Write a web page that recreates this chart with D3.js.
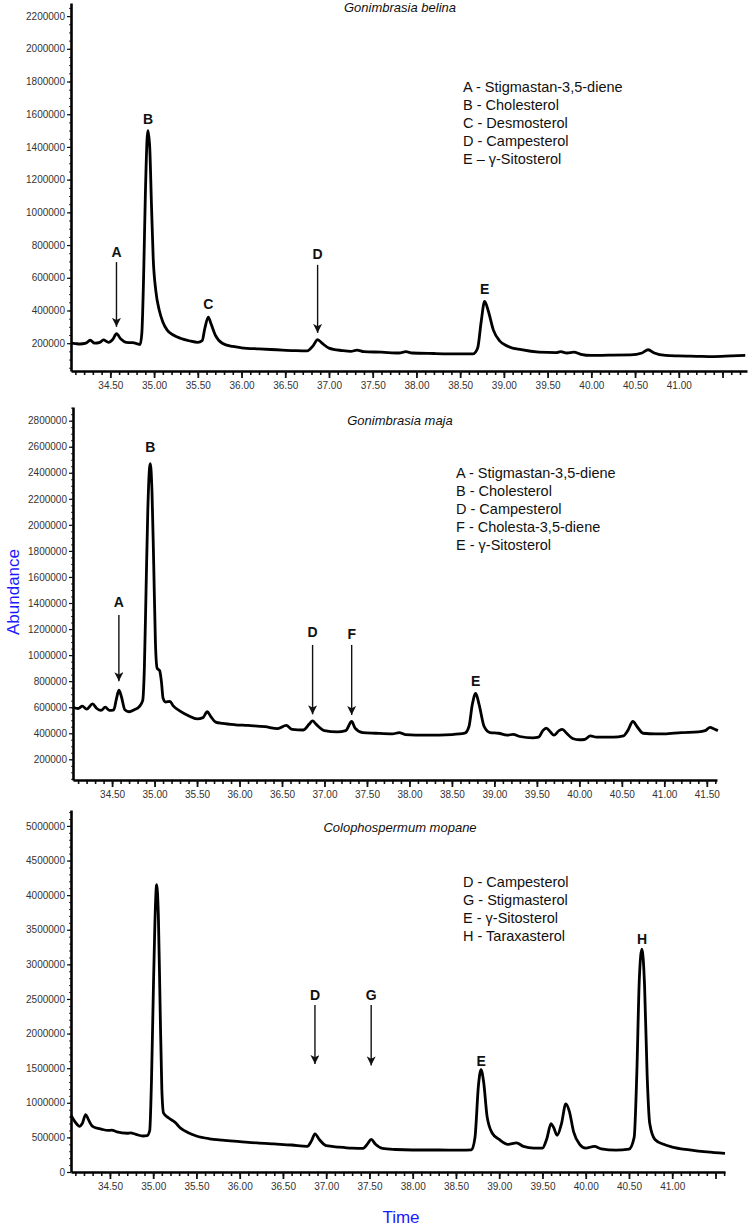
<!DOCTYPE html>
<html>
<head>
<meta charset="utf-8">
<script src="https://cdn.jsdelivr.net/npm/d3@7"></script>
<style>
body { margin: 0; background: #fff; }
svg text { font-family: "Liberation Sans", Arial, sans-serif; }
</style>
</head>
<body>
<div id="chart"></div>
<script>
// ---- Gonimbrasia belina ----
var belinaTime = [34.05, 34.10, 34.15, 34.22, 34.27, 34.32, 34.38, 34.42, 34.48, 34.53, 34.57, 34.62, 34.68, 34.75, 34.80, 34.84, 34.86, 34.88, 34.90, 34.92, 34.93, 34.95, 34.97, 34.99, 35.02, 35.06, 35.10, 35.15, 35.22, 35.30, 35.40, 35.50, 35.55, 35.58, 35.62, 35.65, 35.70, 35.78, 35.90, 36.00, 36.20, 36.40, 36.60, 36.75, 36.82, 36.87, 36.92, 37.00, 37.15, 37.25, 37.32, 37.40, 37.60, 37.80, 37.88, 37.95, 38.20, 38.50, 38.65, 38.70, 38.74, 38.78, 38.82, 38.88, 38.95, 39.05, 39.20, 39.40, 39.60, 39.65, 39.72, 39.80, 39.88, 40.00, 40.20, 40.45, 40.58, 40.65, 40.72, 40.85, 41.00, 41.20, 41.40, 41.60, 41.76];
var belinaAbund = [200000, 198000, 195000, 200000, 218000, 200000, 205000, 220000, 205000, 225000, 258000, 225000, 205000, 203000, 198000, 192000, 260000, 600000, 1100000, 1450000, 1500000, 1400000, 1050000, 720000, 520000, 400000, 330000, 280000, 250000, 230000, 215000, 205000, 215000, 290000, 360000, 320000, 250000, 200000, 180000, 172000, 165000, 160000, 155000, 153000, 185000, 222000, 200000, 170000, 155000, 150000, 158000, 148000, 145000, 140000, 148000, 140000, 137000, 135000, 135000, 170000, 330000, 455000, 400000, 280000, 215000, 180000, 160000, 145000, 142000, 148000, 140000, 145000, 132000, 125000, 127000, 128000, 140000, 160000, 140000, 125000, 122000, 120000, 118000, 122000, 125000];
var belinaYTicks = [200000, 400000, 600000, 800000, 1000000, 1200000, 1400000, 1600000, 1800000, 2000000, 2200000];
var belinaXTicks = ["34.50", "35.00", "35.50", "36.00", "36.50", "37.00", "37.50", "38.00", "38.50", "39.00", "39.50", "40.00", "40.50", "41.00", ""];
var belinaLegend = ["A - Stigmastan-3,5-diene", "B - Cholesterol", "C - Desmosterol", "D - Campesterol", "E \u2013 \u03b3-Sitosterol"];
var belinaPeakLetter = ["A", "B", "C", "D", "E"];
var belinaPeakTime = [34.57, 34.93, 35.62, 36.87, 38.78];
var belinaPeakLabel = [758000, 1572000, 440000, 746000, 532000];
var belinaArrowFrom = [696000, null, null, 679000, null];
var belinaArrowTo = [300000, null, null, 263000, null];

// ---- Gonimbrasia maja ----
var majaTime = [34.04, 34.10, 34.15, 34.20, 34.27, 34.32, 34.37, 34.42, 34.47, 34.52, 34.55, 34.58, 34.61, 34.65, 34.70, 34.76, 34.82, 34.86, 34.88, 34.90, 34.92, 34.94, 34.95, 34.97, 34.99, 35.01, 35.03, 35.06, 35.08, 35.10, 35.13, 35.18, 35.22, 35.30, 35.40, 35.50, 35.57, 35.62, 35.66, 35.72, 35.80, 35.95, 36.10, 36.30, 36.45, 36.55, 36.62, 36.75, 36.82, 36.86, 36.90, 37.00, 37.15, 37.25, 37.32, 37.36, 37.45, 37.60, 37.80, 37.88, 37.95, 38.20, 38.50, 38.65, 38.70, 38.74, 38.78, 38.82, 38.88, 38.95, 39.05, 39.15, 39.22, 39.30, 39.45, 39.52, 39.57, 39.61, 39.66, 39.70, 39.76, 39.80, 39.85, 39.92, 40.00, 40.06, 40.13, 40.20, 40.40, 40.52, 40.57, 40.63, 40.68, 40.75, 40.90, 41.00, 41.20, 41.40, 41.48, 41.54, 41.58, 41.63];
var majaAbund = [600000, 590000, 608000, 585000, 625000, 590000, 575000, 600000, 575000, 580000, 660000, 730000, 680000, 580000, 565000, 580000, 605000, 650000, 900000, 1500000, 2100000, 2430000, 2470000, 2250000, 1700000, 1100000, 900000, 880000, 800000, 670000, 640000, 645000, 610000, 570000, 535000, 510000, 520000, 565000, 530000, 485000, 475000, 465000, 460000, 450000, 435000, 460000, 430000, 425000, 470000, 495000, 470000, 420000, 410000, 420000, 490000, 440000, 405000, 400000, 395000, 405000, 390000, 385000, 390000, 400000, 450000, 620000, 705000, 620000, 450000, 405000, 400000, 385000, 392000, 375000, 365000, 370000, 420000, 440000, 410000, 385000, 420000, 430000, 400000, 360000, 350000, 352000, 380000, 370000, 370000, 380000, 420000, 490000, 450000, 400000, 395000, 395000, 405000, 410000, 420000, 445000, 435000, 420000];
var majaYTicks = [200000, 400000, 600000, 800000, 1000000, 1200000, 1400000, 1600000, 1800000, 2000000, 2200000, 2400000, 2600000, 2800000];
var majaXTicks = ["34.50", "35.00", "35.50", "36.00", "36.50", "37.00", "37.50", "38.00", "38.50", "39.00", "39.50", "40.00", "40.50", "41.00", "41.50"];
var majaLegend = ["A - Stigmastan-3,5-diene", "B - Cholesterol", "D - Campesterol", "F - Cholesta-3,5-diene", "E - \u03b3-Sitosterol"];
var majaPeakLetter = ["A", "B", "D", "F", "E"];
var majaPeakTime = [34.58, 34.95, 36.86, 37.32, 38.78];
var majaPeakLabel = [1408000, 2599000, 1178000, 1163000, 803000];
var majaArrowFrom = [1308000, null, 1078000, 1078000, null];
var majaArrowTo = [800000, null, 545000, 540000, null];

// ---- Colophospermum mopane ----
var mopaneTime = [34.05, 34.10, 34.15, 34.18, 34.22, 34.25, 34.30, 34.40, 34.48, 34.52, 34.58, 34.70, 34.74, 34.80, 34.88, 34.93, 34.96, 34.98, 35.00, 35.02, 35.04, 35.06, 35.08, 35.10, 35.12, 35.18, 35.25, 35.32, 35.40, 35.50, 35.65, 35.80, 36.00, 36.20, 36.40, 36.60, 36.78, 36.83, 36.87, 36.92, 37.00, 37.15, 37.30, 37.42, 37.48, 37.52, 37.57, 37.65, 37.80, 38.00, 38.30, 38.55, 38.68, 38.72, 38.76, 38.79, 38.82, 38.86, 38.92, 39.00, 39.10, 39.20, 39.28, 39.40, 39.50, 39.55, 39.60, 39.63, 39.67, 39.72, 39.77, 39.81, 39.86, 39.93, 40.00, 40.10, 40.18, 40.35, 40.50, 40.56, 40.59, 40.62, 40.65, 40.68, 40.71, 40.74, 40.80, 40.90, 41.00, 41.20, 41.40, 41.61];
var mopaneAbund = [820000, 720000, 660000, 700000, 830000, 760000, 660000, 620000, 600000, 605000, 580000, 560000, 565000, 545000, 520000, 525000, 600000, 1300000, 2500000, 3600000, 4150000, 3700000, 2400000, 1200000, 850000, 780000, 720000, 630000, 570000, 520000, 480000, 460000, 440000, 420000, 405000, 390000, 370000, 450000, 550000, 470000, 380000, 360000, 345000, 340000, 410000, 470000, 400000, 340000, 325000, 318000, 318000, 315000, 320000, 500000, 1250000, 1480000, 1300000, 800000, 560000, 470000, 400000, 420000, 370000, 345000, 345000, 480000, 700000, 640000, 530000, 700000, 985000, 880000, 580000, 400000, 345000, 370000, 335000, 315000, 330000, 500000, 1400000, 2800000, 3220000, 2700000, 1400000, 700000, 470000, 400000, 360000, 320000, 290000, 270000];
var mopaneYTicks = [0, 500000, 1000000, 1500000, 2000000, 2500000, 3000000, 3500000, 4000000, 4500000, 5000000];
var mopaneXTicks = ["34.50", "35.00", "35.50", "36.00", "36.50", "37.00", "37.50", "38.00", "38.50", "39.00", "39.50", "40.00", "40.50", "41.00", ""];
var mopaneLegend = ["D - Campesterol", "G - Stigmasterol", "E - \u03b3-Sitosterol", "H - Taraxasterol"];
var mopanePeakLetter = ["D", "G", "E", "H"];
var mopanePeakTime = [36.87, 37.52, 38.79, 40.65];
var mopanePeakLabel = [2556000, 2556000, 1600000, 3366000];
var mopaneArrowFrom = [2411000, 2411000, null, null];
var mopaneArrowTo = [1560000, 1540000, null, null];

var svg = d3.select("#chart").append("svg")
    .attr("width", 750)
    .attr("height", 1226);

svg.append("defs").append("marker")
    .attr("id", "arrowhead")
    .attr("viewBox", "0 0 10 10")
    .attr("refX", 10)
    .attr("refY", 5)
    .attr("markerWidth", 9)
    .attr("markerHeight", 9)
    .attr("markerUnits", "userSpaceOnUse")
    .attr("orient", "auto")
    .append("path")
    .attr("d", "M0,0 L10,5 L0,10 L2.5,5 Z")
    .attr("fill", "#111");

function drawPanel(p) {
    var x = d3.scaleLinear().domain(p.xDomain).range([p.left, p.right]);
    var y = d3.scaleLinear().domain(p.yDomain).range([p.bottom, p.top]);
    var g = svg.append("g");

    // minor x ticks every 0.1 min
    var minorX = d3.range(Math.ceil(p.xDomain[0] * 10), Math.floor(p.xDomain[1] * 10) + 1).map(function(d) { return d / 10; });
    g.append("g")
        .attr("transform", "translate(0," + p.bottom + ")")
        .call(d3.axisBottom(x).tickValues(minorX).tickSize(4).tickSizeOuter(0).tickFormat(""))
        .call(function(a) { a.select(".domain").remove(); a.selectAll("line").attr("stroke", "#111").attr("stroke-width", 1.6); });

    // major x ticks with labels
    var majorX = p.xTicks.map(function(d, i) { return 34.5 + i * 0.5; });
    g.append("g")
        .attr("transform", "translate(0," + p.bottom + ")")
        .call(d3.axisBottom(x).tickValues(majorX).tickSize(7).tickSizeOuter(0).tickPadding(4)
            .tickFormat(function(d, i) { return p.xTicks[i]; }))
        .call(function(a) {
            a.select(".domain").attr("stroke", "#000").attr("stroke-width", 2.6);
            a.selectAll("line").attr("stroke", "#111").attr("stroke-width", 1.8);
            a.selectAll("text").attr("fill", "#333").style("font-size", "10px");
        });

    // minor y ticks
    var minorY = d3.range(Math.ceil(p.yDomain[0] / p.yMinor), Math.floor(p.yDomain[1] / p.yMinor) + 1).map(function(d) { return d * p.yMinor; });
    g.append("g")
        .attr("transform", "translate(" + p.left + ",0)")
        .call(d3.axisLeft(y).tickValues(minorY).tickSize(2).tickSizeOuter(0).tickFormat(""))
        .call(function(a) { a.select(".domain").remove(); a.selectAll("line").attr("stroke", "#333").attr("stroke-width", 1); });

    g.append("g")
        .attr("transform", "translate(" + p.left + ",0)")
        .call(d3.axisLeft(y).tickValues(p.yTicks).tickSize(4).tickSizeOuter(0).tickPadding(2)
            .tickFormat(function(d) { return String(d); }))
        .call(function(a) {
            a.select(".domain").attr("stroke", "#000").attr("stroke-width", 2.6);
            a.selectAll("line").attr("stroke", "#111").attr("stroke-width", 1.2);
            a.selectAll("text").attr("fill", "#333").style("font-size", "10px");
        });

    // chromatogram trace
    var line = d3.line()
        .x(function(d) { return x(d[0]); })
        .y(function(d) { return y(d[1]); })
        .curve(d3.curveMonotoneX);
    g.append("path")
        .datum(d3.zip(p.time, p.abund))
        .attr("fill", "none")
        .attr("stroke", "#000")
        .attr("stroke-width", 2.8)
        .attr("stroke-linejoin", "round")
        .attr("d", line);

    // title
    g.append("text")
        .attr("x", 400)
        .attr("y", p.titleY)
        .attr("text-anchor", "middle")
        .style("font-style", "italic")
        .style("font-size", "13px")
        .attr("fill", "#111")
        .text(p.title);

    // legend
    g.selectAll(".legend")
        .data(p.legend)
        .enter().append("text")
        .attr("x", p.legendX)
        .attr("y", function(d, i) { return p.legendY + i * 18; })
        .attr("dy", "0.35em")
        .style("font-size", "14.5px")
        .attr("fill", "#111")
        .text(function(d) { return d; });

    // peak letters and arrows
    p.letters.forEach(function(l, i) {
        g.append("text")
            .attr("x", x(p.peakTime[i]))
            .attr("y", y(p.peakLabel[i]))
            .attr("dy", "0.36em")
            .attr("text-anchor", "middle")
            .style("font-weight", "bold")
            .style("font-size", "14px")
            .attr("fill", "#111")
            .text(l);
        if (p.arrowFrom[i] !== null) {
            g.append("line")
                .attr("x1", x(p.peakTime[i]))
                .attr("x2", x(p.peakTime[i]))
                .attr("y1", y(p.arrowFrom[i]))
                .attr("y2", y(p.arrowTo[i]))
                .attr("stroke", "#111")
                .attr("stroke-width", 1.4)
                .attr("marker-end", "url(#arrowhead)");
        }
    });
}

drawPanel({
    time: belinaTime, abund: belinaAbund,
    xDomain: [34.05, 41.78], yDomain: [30000, 2280000],
    left: 71, right: 747, top: 3, bottom: 371,
    yTicks: belinaYTicks, yMinor: 50000, xTicks: belinaXTicks,
    title: "Gonimbrasia belina", titleY: 12,
    legend: belinaLegend, legendX: 463, legendY: 87,
    letters: belinaPeakLetter, peakTime: belinaPeakTime, peakLabel: belinaPeakLabel,
    arrowFrom: belinaArrowFrom, arrowTo: belinaArrowTo
});

drawPanel({
    time: majaTime, abund: majaAbund,
    xDomain: [34.04, 41.62], yDomain: [41000, 2905000],
    left: 73, right: 717, top: 407, bottom: 780,
    yTicks: majaYTicks, yMinor: 50000, xTicks: majaXTicks,
    title: "Gonimbrasia maja", titleY: 425,
    legend: majaLegend, legendX: 456, legendY: 473,
    letters: majaPeakLetter, peakTime: majaPeakTime, peakLabel: majaPeakLabel,
    arrowFrom: majaArrowFrom, arrowTo: majaArrowTo
});

drawPanel({
    time: mopaneTime, abund: mopaneAbund,
    xDomain: [34.05, 41.61], yDomain: [0, 5230000],
    left: 71, right: 725, top: 810, bottom: 1172,
    yTicks: mopaneYTicks, yMinor: 100000, xTicks: mopaneXTicks,
    title: "Colophospermum mopane", titleY: 832,
    legend: mopaneLegend, legendX: 463, legendY: 882,
    letters: mopanePeakLetter, peakTime: mopanePeakTime, peakLabel: mopanePeakLabel,
    arrowFrom: mopaneArrowFrom, arrowTo: mopaneArrowTo
});

// shared axis titles
svg.append("text")
    .attr("transform", "translate(19,592) rotate(-90)")
    .attr("text-anchor", "middle")
    .style("font-size", "17px")
    .attr("fill", "#1a1aff")
    .text("Abundance");

svg.append("text")
    .attr("x", 401)
    .attr("y", 1223)
    .attr("text-anchor", "middle")
    .style("font-size", "17px")
    .attr("fill", "#1a1aff")
    .text("Time");
</script>
</body>
</html>
